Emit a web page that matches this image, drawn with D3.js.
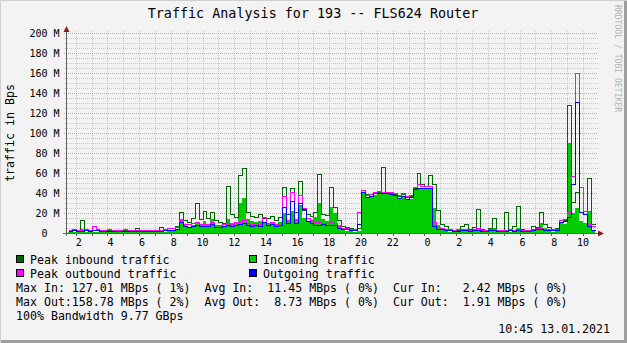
<!DOCTYPE html>
<html>
<head>
<meta charset="utf-8">
<script src="https://cdn.jsdelivr.net/npm/d3@7"></script>
<style>
  body { margin: 0; background: #f3f3f3; }
  svg { display: block; }
  text { font-family: "DejaVu Sans Mono", monospace; }
</style>
</head>
<body>
<svg width="627" height="343"></svg>
<script>
// samples every 15 minutes, first one at 01:30 on 12.01.2021 (values in MBps)
var startTime = new Date(2021, 0, 12, 1, 30),
    stepMinutes = 15;

var peakIn = [
  2, 2,                 // 01
  2, 12, 3, 2,          // 02
  2, 2, 2, 2,           // 03
  2, 2, 1, 2,           // 04
  2, 2, 2, 4,           // 05
  2, 2, 2, 2,           // 06
  2, 5, 2, 4,           // 07
  4, 6, 20, 12,         // 08
  10, 14, 29, 13,       // 09
  21, 14, 20, 12,       // 10
  10, 9, 46, 18,        // 11
  15, 57, 64, 20,       // 12
  16, 15, 18, 14,       // 13
  14, 16, 12, 15,       // 14
  45, 18, 44, 20,       // 15
  51, 22, 18, 16,       // 16
  20, 58, 18, 17,       // 17
  45, 25, 12, 6,        // 18
  5, 4, 3, 4,           // 19
  42, 38, 38, 40,       // 20
  40, 65, 40, 39,       // 21
  38, 36, 38, 35,       // 22
  36, 44, 59, 48,       // 23
  46, 57, 48, 22,       // 00
  8, 6, 3, 2,           // 01
  2, 6, 8, 3,           // 02
  5, 23, 3, 2,          // 03
  4, 14, 2, 2,          // 04
  20, 3, 6, 26,         // 05
  3, 2, 2, 6,           // 06
  5, 20, 8, 5,          // 07
  3, 4, 12, 12,         // 08
  127, 30, 40, 20,      // 09
  18, 54, 8             // 10
];
var avgIn = [
  1, 1,
  1, 4, 1, 1,
  1, 1, 1, 1,
  1, 1, 1, 1,
  1, 1, 1, 2,
  1, 1, 1, 1,
  1, 2, 1, 2,
  2, 4, 14, 8,
  6, 8, 11, 8,
  12, 9, 14, 8,
  7, 7, 14, 10,
  10, 30, 35, 14,
  12, 11, 12, 10,
  10, 11, 9, 11,
  20, 13, 22, 14,
  28, 15, 12, 12,
  16, 30, 14, 12,
  26, 20, 8, 3,
  2, 2, 1, 2,
  40, 36, 36, 38,
  39, 39, 39, 38,
  37, 34, 36, 33,
  34, 43, 44, 44,
  44, 44, 25, 8,
  4, 3, 1, 1,
  1, 2, 3, 1,
  2, 5, 1, 1,
  2, 5, 1, 1,
  3, 1, 2, 5,
  1, 1, 1, 3,
  3, 10, 5, 3,
  1, 2, 10, 9,
  90, 20, 25, 12,
  10, 22, 2.4
];
var peakOut = [
  2, 3,
  2, 2, 3, 2,
  6, 3, 2, 2,
  3, 2, 2, 2,
  3, 2, 2, 2,
  2, 2, 2, 2,
  2, 2, 3, 4,
  4, 5, 12, 8,
  8, 9, 10, 8,
  8, 8, 10, 7,
  7, 8, 9, 8,
  10, 10, 12, 9,
  8, 9, 8, 15,
  9, 10, 8, 9,
  36, 12, 40, 12,
  37, 24, 14, 12,
  10, 10, 9, 9,
  10, 9, 6, 4,
  4, 3, 3, 20,
  42, 37, 38, 40,
  41, 40, 40, 40,
  39, 37, 39, 36,
  37, 45, 48, 46,
  46, 46, 10, 5,
  4, 3, 3, 2,
  3, 3, 3, 2,
  3, 4, 2, 2,
  3, 3, 2, 2,
  2, 3, 2, 3,
  2, 2, 2, 3,
  4, 4, 3, 3,
  3, 3, 12, 13,
  20, 56, 159, 45,
  21, 8, 6
];
var avgOut = [
  1, 2,
  1, 1, 2, 1,
  2, 2, 1, 1,
  1, 1, 1, 1,
  1, 1, 1, 1,
  1, 1, 1, 1,
  1, 1, 2, 2,
  2, 3, 10, 6,
  5, 6, 7, 6,
  6, 6, 8, 5,
  5, 6, 7, 6,
  7, 8, 9, 7,
  6, 7, 6, 10,
  7, 8, 6, 7,
  25, 9, 31, 9,
  29, 23, 11, 9,
  7, 7, 8, 7,
  7, 7, 4, 3,
  3, 2, 2, 8,
  40, 35, 36, 39,
  39, 39, 39, 38,
  37, 34, 36, 33,
  35, 43, 44, 44,
  44, 44, 6, 3,
  3, 2, 2, 1,
  1, 2, 2, 1,
  2, 2, 1, 1,
  2, 2, 1, 1,
  1, 2, 1, 2,
  1, 1, 1, 2,
  3, 3, 2, 2,
  2, 2, 10, 11,
  15, 48, 130, 20,
  18, 6, 1.9
];

var yTicks = [0, 20, 40, 60, 80, 100, 120, 140, 160, 180, 200];
var legendItems = [
  {label: "Peak inbound traffic", color: "#006600"},
  {label: "Incoming traffic", color: "#00cc00"},
  {label: "Peak outbound traffic", color: "#ff00ff"},
  {label: "Outgoing traffic", color: "#0000ff"}
];
var statLines = [
  "Max In: 127.01 MBps ( 1%)  Avg In:  11.45 MBps ( 0%)  Cur In:   2.42 MBps ( 0%)",
  "Max Out:158.78 MBps ( 2%)  Avg Out:  8.73 MBps ( 0%)  Cur Out:  1.91 MBps ( 0%)",
  "100% Bandwidth 9.77 GBps"
];
var title = "Traffic Analysis for 193 -- FLS624 Router",
    yTitle = "traffic in Bps",
    stamp = "10:45 13.01.2021",
    credit = "RRDTOOL / TOBI OETIKER";

var svg = d3.select("svg");
var W = 627, H = 343;

var x = d3.scaleTime()
    .domain([new Date(2021, 0, 12, 1, 27), new Date(2021, 0, 13, 10, 57)])
    .range([67, 598]);
var y = d3.scaleLinear().domain([0, 200]).range([233, 33]);

// background + 3d frame
svg.append("rect").attr("width", W).attr("height", H).attr("fill", "#f3f3f3");
svg.append("path").attr("d", "M0.5," + H + "V0.5H" + W).attr("fill", "none").attr("stroke", "#cfcfcf");
svg.append("path").attr("d", "M1," + (H - 1.5) + "H" + (W - 1.5) + "V1")
  .attr("fill", "none").attr("stroke", "#9e9e9e").attr("stroke-width", 3);

// build series
function series(vals) {
  var pts = vals.map(function(v, i) {
    return {t: d3.timeMinute.offset(startTime, i * stepMinutes), v: v};
  });
  var last = pts[pts.length - 1];
  pts.push({t: d3.timeMinute.offset(last.t, stepMinutes), v: last.v});
  return pts;
}

// grid
var crisp = function(v) { return Math.round(v) + 0.5; };
var grid = svg.append("g");
grid.selectAll(".ymin").data(d3.range(0, 201, 5).filter(function(d) { return d % 20; }))
  .join("line")
    .attr("x1", 65).attr("x2", 598)
    .attr("y1", function(d) { return crisp(y(d)); })
    .attr("y2", function(d) { return crisp(y(d)); })
    .attr("stroke", "#c8c8c8").attr("stroke-dasharray", "1,1");
var hours = d3.timeHour.every(1).range(x.domain()[0], x.domain()[1]);
grid.selectAll(".xmin").data(hours.filter(function(d) { return d.getHours() !== 0; }))
  .join("line")
    .attr("x1", function(d) { return crisp(x(d)); })
    .attr("x2", function(d) { return crisp(x(d)); })
    .attr("y1", 31).attr("y2", 235)
    .attr("stroke", "#c8c8c8").attr("stroke-dasharray", "1,1");
grid.selectAll(".ymaj").data(yTicks.slice(1))
  .join("line")
    .attr("x1", 64).attr("x2", 598)
    .attr("y1", function(d) { return crisp(y(d)); })
    .attr("y2", function(d) { return crisp(y(d)); })
    .attr("stroke", "#ec9c9c").attr("stroke-dasharray", "1,1");
grid.selectAll(".xmaj").data(hours.filter(function(d) { return d.getHours() === 0; }))
  .join("line")
    .attr("x1", function(d) { return crisp(x(d)); })
    .attr("x2", function(d) { return crisp(x(d)); })
    .attr("y1", 31).attr("y2", 236)
    .attr("stroke", "#ec9c9c").attr("stroke-dasharray", "1,1");

// data
var area = d3.area().curve(d3.curveStepAfter)
    .x(function(d) { return x(d.t); })
    .y0(y(0))
    .y1(function(d) { return y(d.v); });
var line = d3.line().curve(d3.curveStepAfter)
    .x(function(d) { return crisp(x(d.t)); })
    .y(function(d) { return crisp(y(d.v)) - 1; });

var plot = svg.append("g").attr("shape-rendering", "crispEdges");
plot.append("path").datum(series(avgIn)).attr("d", area).attr("fill", "#00cc00");
[[peakIn, "#006600"], [peakOut, "#ff00ff"], [avgOut, "#0000ff"]].forEach(function(s) {
  plot.append("path").datum(series(s[0])).attr("d", line)
    .attr("fill", "none").attr("stroke", s[1]).attr("stroke-width", 1);
});

// axes
var axisColor = "#606060", arrowColor = "#8b1a1a";
svg.append("line").attr("x1", 66.5).attr("x2", 66.5).attr("y1", 30).attr("y2", 236)
  .attr("stroke", axisColor);
svg.append("line").attr("x1", 63).attr("x2", 600).attr("y1", 233.5).attr("y2", 233.5)
  .attr("stroke", axisColor);
svg.append("path").attr("d", "M63.5,32L66.5,26L69.5,32Z").attr("fill", arrowColor);
svg.append("path").attr("d", "M598,230.5L604,233.5L598,236.5Z").attr("fill", arrowColor);

svg.append("g").selectAll("line").data(hours).join("line")
  .attr("x1", function(d) { return crisp(x(d)); })
  .attr("x2", function(d) { return crisp(x(d)); })
  .attr("y1", 233).attr("y2", 236).attr("stroke", axisColor);

svg.append("g").selectAll("text").data(yTicks).join("text")
  .attr("x", 59.5).attr("y", function(d) { return y(d) + 4; })
  .attr("text-anchor", "end").attr("xml:space", "preserve").style("white-space", "pre")
  .attr("font-size", "10px").attr("fill", "#000")
  .text(function(d) { return d === 0 ? "0  " : d + " M"; });

var fmtHour = d3.timeFormat("%_H");
svg.append("g").selectAll("text").data(x.ticks(d3.timeHour.every(2))).join("text")
  .attr("x", function(d) { return x(d); }).attr("y", 246)
  .attr("text-anchor", "middle").attr("xml:space", "preserve").style("white-space", "pre")
  .attr("font-size", "10px").attr("fill", "#000")
  .text(fmtHour);

// titles
svg.append("text").attr("x", 313).attr("y", 18).attr("text-anchor", "middle")
  .attr("font-size", "13.4px").attr("fill", "#000").text(title);
svg.append("text").attr("transform", "translate(14,133) rotate(-90)")
  .attr("text-anchor", "middle").attr("font-size", "11.6px").attr("fill", "#000").text(yTitle);
svg.append("text").attr("transform", "translate(614.5,5) rotate(90)")
  .attr("font-size", "8.1px").attr("fill", "#b4b4b4").text(credit);

// legend
var leg = svg.append("g").selectAll("g").data(legendItems).join("g")
  .attr("transform", function(d, i) {
    return "translate(" + (i % 2 ? 249 : 16) + "," + (255 + Math.floor(i / 2) * 14) + ")";
  });
leg.append("rect").attr("x", 0.5).attr("y", 0.5).attr("width", 7).attr("height", 7)
  .attr("fill", function(d) { return d.color; }).attr("stroke", "#000");
leg.append("text").attr("x", 14).attr("y", 8.5).attr("font-size", "11.6px").attr("fill", "#000")
  .text(function(d) { return d.label; });

svg.append("g").selectAll("text").data(statLines).join("text")
  .attr("x", 16).attr("y", function(d, i) { return 291.5 + i * 14; })
  .attr("xml:space", "preserve").style("white-space", "pre")
  .attr("font-size", "11.6px").attr("fill", "#000")
  .text(function(d) { return d; });
svg.append("text").attr("x", 610).attr("y", 332.5).attr("text-anchor", "end")
  .attr("font-size", "11.6px").attr("fill", "#000").text(stamp);
</script>
</body>
</html>
